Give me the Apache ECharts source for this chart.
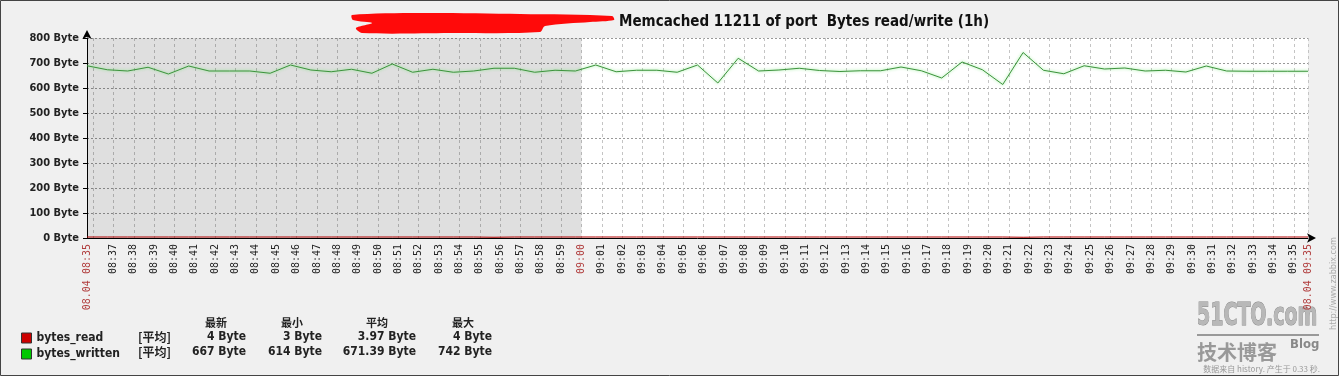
<!DOCTYPE html>
<html><head><meta charset="utf-8">
<script src="https://cdn.jsdelivr.net/npm/echarts@6/dist/echarts.min.js"></script>
<style>html,body{margin:0;padding:0;background:#f0f0f0;}#c{width:1339px;height:376px;}</style>
</head><body><div id="c"></div>
<script>
// ---------- data ----------
const titleText = 'Memcached 11211 of port  Bytes read/write (1h)';
const seriesNames = ['bytes_read', 'bytes_written'];
const seriesColors = ['#cc0000', '#00c800'];
// x = minutes after 08:00 (08:35:42 .. 09:35:42)
const startMinute = 35.7;
const endMinute = 95.7;
const shadeEndMinute = 60;
const sampleMinutes = [35.7,36.7,37.7,38.7,39.7,40.7,41.7,42.7,43.7,44.7,45.7,46.7,47.7,48.7,49.7,50.7,51.7,52.7,53.7,54.7,55.7,56.7,57.7,58.7,59.7,60.7,61.7,62.7,63.7,64.7,65.7,66.7,67.7,68.7,69.7,70.7,71.7,72.7,73.7,74.7,75.7,76.7,77.7,78.7,79.7,80.7,81.7,82.7,83.7,84.7,85.7,86.7,87.7,88.7,89.7,90.7,91.7,92.7,93.7,94.7,95.7];
const bytesRead = [4,4,4,4,4,4,4,4,4,4,4,4,4,4,4,4,4,4,4,4,3,4,4,4,4,4,4,4,4,4,4,4,4,4,4,4,4,4,4,4,4,4,4,4,4,4,3,4,4,4,4,4,4,4,4,4,4,4,4,4,4];
const bytesWritten = [689,673,668,683,656,688,668,668,668,659,692,672,665,675,659,696,663,675,663,668,679,679,663,671,668,692,665,671,671,663,692,620,719,668,672,679,670,666,669,669,684,669,640,704,673,614,742,671,657,689,676,680,668,671,664,688,668,667,667,667,667];
const tickMinutes = [35.7,36,37,38,39,40,41,42,43,44,45,46,47,48,49,50,51,52,53,54,55,56,57,58,59,60,61,62,63,64,65,66,67,68,69,70,71,72,73,74,75,76,77,78,79,80,81,82,83,84,85,86,87,88,89,90,91,92,93,94,95,95.7];
const labelMinutes = [35.7,37,38,39,40,41,42,43,44,45,46,47,48,49,50,51,52,53,54,55,56,57,58,59,60,61,62,63,64,65,66,67,68,69,70,71,72,73,74,75,76,77,78,79,80,81,82,83,84,85,86,87,88,89,90,91,92,93,94,95,95.7];
const labelTexts = ['08.04 08:35','08:37','08:38','08:39','08:40','08:41','08:42','08:43','08:44','08:45','08:46','08:47','08:48','08:49','08:50','08:51','08:52','08:53','08:54','08:55','08:56','08:57','08:58','08:59','09:00','09:01','09:02','09:03','09:04','09:05','09:06','09:07','09:08','09:09','09:10','09:11','09:12','09:13','09:14','09:15','09:16','09:17','09:18','09:19','09:20','09:21','09:22','09:23','09:24','09:25','09:26','09:27','09:28','09:29','09:30','09:31','09:32','09:33','09:34','09:35','08.04 09:35'];
const redLabels = ['08.04 08:35','09:00','08.04 09:35'];
const yTickValues = [0,100,200,300,400,500,600,700,800];
const yTickLabels = ['0 Byte','100 Byte','200 Byte','300 Byte','400 Byte','500 Byte','600 Byte','700 Byte','800 Byte'];
const statHeaders = ['最新','最小','平均','最大'];
const statFunc = '[平均]';
const statRows = [
  ['4 Byte','3 Byte','3.97 Byte','4 Byte'],
  ['667 Byte','614 Byte','671.39 Byte','742 Byte']
];
const footerText = '数据来自 history. 产生于 0.33 秒.';

// ---------- chart ----------
const F = "'DejaVu Sans Condensed','DejaVu Sans',sans-serif";
const chart = echarts.init(document.getElementById('c'), null, {renderer: 'canvas'});
const colRight = [246, 322, 416, 492];
const colHead = [216, 292, 377, 463];
const rowY = [337, 352];
const graphics = [];
graphics.push({type:'rect', shape:{x:0.5,y:0.5,width:1338,height:375}, style:{fill:null, stroke:'#444', lineWidth:1}, silent:true});
// redaction scribble
graphics.push({type:'polygon', shape:{smooth:0.3, points:[[352,15],[420,13],[520,14],[612,16],[614,20],[590,22],[545,26],[540,32],[450,33],[362,33],[356,28],[372,23],[353,20]]}, style:{fill:'#ff0a0a'}, silent:true});
statHeaders.forEach((h,i)=>graphics.push({type:'text', x:colHead[i], y:323, style:{text:h, font:"bold 11px 'Noto Sans CJK SC'", fill:'#222', textAlign:'center', textVerticalAlign:'middle'}}));
statRows.forEach((row,r)=>{
  graphics.push({type:'text', x:138, y:rowY[r], style:{text:statFunc, font:"bold 12px 'Noto Sans CJK SC'", fill:'#222', textVerticalAlign:'middle'}});
  row.forEach((v,i)=>graphics.push({type:'text', x:colRight[i], y:rowY[r], style:{text:v, font:'bold 12px '+F, fill:'#222', textAlign:'right', textVerticalAlign:'middle'}}));
});
// watermarks
graphics.push({type:'text', x:1334, y:330, rotation:Math.PI/2, style:{text:'http://www.zabbix.com', font:'9px '+F, fill:'#aaa', textVerticalAlign:'middle'}});
graphics.push({type:'text', x:1197, y:317, scaleX:0.66, style:{text:'51CTO.com', font:"bold 32px 'DejaVu Sans Condensed','DejaVu Sans'", fill:'#b8b8b8', stroke:'#888', lineWidth:1, textVerticalAlign:'middle'}});
graphics.push({type:'rect', shape:{x:1197,y:334,width:122,height:2}, style:{fill:'#999'}});
graphics.push({type:'text', x:1197, y:352, style:{text:'技术博客', font:"bold 20px 'Noto Sans CJK SC'", fill:'#999', textVerticalAlign:'middle'}});
graphics.push({type:'text', x:1290, y:345, style:{text:'Blog', font:'bold 13px '+F, fill:'#888', textVerticalAlign:'middle'}});
graphics.push({type:'text', x:1320, y:369, style:{text:footerText, font:"8px 'Noto Sans CJK SC'", fill:'#999', textAlign:'right', textVerticalAlign:'middle'}});

const option = {
  backgroundColor: '#f0f0f0',
  animation: false,
  title: {text: titleText, left: 614, top: 10, textStyle:{fontFamily:F, fontWeight:'bold', fontSize:15, color:'#111'}},
  grid: {left: 87, right: 31, top: 38, bottom: 138, show: true, backgroundColor:'#ffffff', borderWidth: 0},
  legend: {
    orient:'vertical', left:16, top:327, itemWidth:10, itemHeight:10, itemGap:4, icon:'rect',
    textStyle:{fontFamily:F, fontWeight:'bold', fontSize:12, color:'#222'},
    data: seriesNames.map((n,i)=>({name:n, itemStyle:{color:seriesColors[i], borderColor:'#333', borderWidth:1}}))
  },
  xAxis: {
    type:'value', min:startMinute, max:endMinute,
    axisLine:{show:true, onZero:false, lineStyle:{color:'#000', width:1}, symbol:['none','arrow'], symbolSize:[7,9], symbolOffset:[0,8]},
    axisTick:{show:false, customValues: tickMinutes},
    splitLine:{show:true, lineStyle:{color:'#c4c4c4', type:[3,3], width:1}},
    axisLabel:{
      customValues: labelMinutes, rotate:90, margin:6, fontFamily:"'DejaVu Sans Mono',monospace", fontSize:10, color:'#222',
      formatter:(v)=>{
        const i = labelMinutes.findIndex(m=>Math.abs(m-v)<1e-6);
        const t = i>=0 ? labelTexts[i] : '';
        return redLabels.includes(t) ? '{r|'+t+'}' : t;
      },
      rich:{r:{color:'#b03c3c', fontFamily:"'DejaVu Sans Mono',monospace", fontSize:10}}
    }
  },
  yAxis: {
    type:'value', min:0, max:800, interval:100,
    axisLine:{show:true, lineStyle:{color:'#000', width:1}, symbol:['none','arrow'], symbolSize:[7,9], symbolOffset:[0,8]},
    axisTick:{show:true, length:4, lineStyle:{color:'#000'}},
    splitLine:{show:true, lineStyle:{color:'#999', type:[2,2], width:1}},
    axisLabel:{margin:8, fontFamily:F, fontWeight:'bold', fontSize:11, color:'#222',
      formatter:(v)=>{const i=yTickValues.indexOf(v); return i>=0?yTickLabels[i]:'';}}
  },
  series: [
    {name:seriesNames[0], type:'line', showSymbol:false, z:3,
     data: sampleMinutes.map((m,i)=>[m, bytesRead[i]]),
     itemStyle:{color:seriesColors[0]}, lineStyle:{color:'#b00000', width:1}},
    {name:seriesNames[1], type:'line', showSymbol:false, z:4,
     data: sampleMinutes.map((m,i)=>[m, bytesWritten[i]]),
     itemStyle:{color:seriesColors[1]},
     lineStyle:{color:'#3d933d', width:1, shadowColor:'rgba(110,230,110,0.9)', shadowBlur:3},
     markArea:{silent:true, itemStyle:{color:'rgba(0,0,0,0.125)'}, data:[[{xAxis:startMinute},{xAxis:shadeEndMinute}]]}}
  ],
  graphic: graphics
};
chart.setOption(option);
</script></body></html>
